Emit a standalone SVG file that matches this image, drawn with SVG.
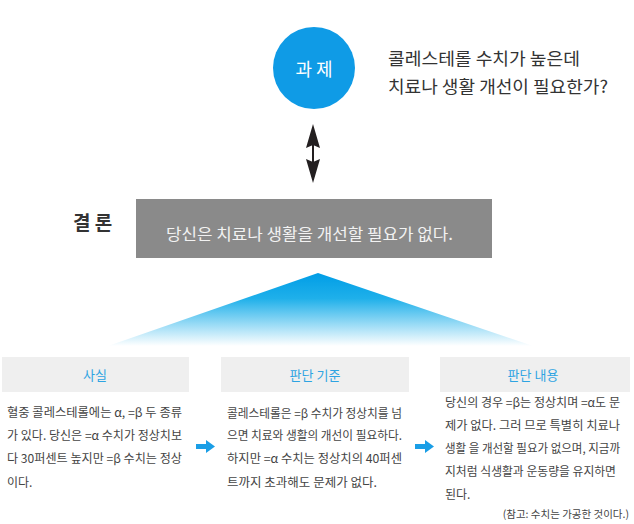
<svg xmlns="http://www.w3.org/2000/svg" width="634" height="524" viewBox="0 0 634 524">
<defs>
<linearGradient id="tri" x1="0" y1="0" x2="0" y2="1">
<stop offset="0" stop-color="#009de6"/>
<stop offset="0.35" stop-color="#1fb0ea"/>
<stop offset="1" stop-color="#ffffff"/>
</linearGradient>
</defs>
<style>
text{font-family:"Noto Sans CJK KR","Noto Sans",sans-serif}
.q{font-size:17.5px;fill:#333}
.body{font-size:12px;fill:#444}
.hdr{fill:#efefef}
.ht{font-size:13px;fill:#2ea4e2;text-anchor:middle}
.barrow{fill:#1a9ee6}
.g{font-style:italic}
</style>
<rect width="634" height="524" fill="#ffffff"/>

<g id="task">
<circle cx="314" cy="68" r="41" fill="#0f9be6"/>
<text x="314" y="76" font-size="18" fill="#ffffff" text-anchor="middle">과 제</text>
</g>

<g id="question">
<text class="q" x="388" y="65" textLength="192" lengthAdjust="spacingAndGlyphs">콜레스테롤 수치가 높은데</text>
<text class="q" x="388" y="93" textLength="220" lengthAdjust="spacingAndGlyphs">치료나 생활 개선이 필요한가?</text>
</g>

<g id="connectors">
<path d="M313,130 L313,176" stroke="#231f20" stroke-width="2" fill="none"/>
<path d="M313,124 L320,148 L313,145 L306,148 Z" fill="#231f20"/>
<path d="M313,183 L320,159 L313,162 L306,159 Z" fill="#231f20"/>
<path d="M196,444 L206,444 L206,440 L215,446.5 L206,453 L206,449 L196,449 Z" class="barrow"/>
<path d="M415,444 L425,444 L425,440 L434,446.5 L425,453 L425,449 L415,449 Z" class="barrow"/>
</g>

<g id="conclusion-label">
<text x="73" y="230" font-size="19" font-weight="bold" fill="#333">결 론</text>
</g>

<g id="conclusion">
<rect x="136" y="199" width="356" height="59" fill="#8a8a8a"/>
<text x="166" y="240" font-size="16" fill="#f2f2f2" textLength="287" lengthAdjust="spacingAndGlyphs">당신은 치료나 생활을 개선할 필요가 없다.</text>
</g>

<g id="triangle">
<polygon points="318,273 108,346 533,346" fill="url(#tri)"/>
</g>

<g id="fact">
<rect class="hdr" x="2" y="357" width="187" height="35"/>
<text class="ht" x="95" y="380">사실</text>
<text class="body" x="7" y="417" textLength="175" lengthAdjust="spacingAndGlyphs">혈중 콜레스테롤에는 α, =β 두 종류</text>
<text class="body" x="7" y="440" textLength="175" lengthAdjust="spacingAndGlyphs">가 있다. 당신은 =α 수치가 정상치보</text>
<text class="body" x="7" y="463" textLength="175" lengthAdjust="spacingAndGlyphs">다 30퍼센트 높지만 =β 수치는 정상</text>
<text class="body" x="7" y="487">이다.</text>
</g>

<g id="criteria">
<rect class="hdr" x="221" y="357" width="188" height="35"/>
<text class="ht" x="315" y="380">판단 기준</text>
<text class="body" x="227" y="418" textLength="175" lengthAdjust="spacingAndGlyphs">콜레스테롤은 =β 수치가 정상치를 넘</text>
<text class="body" x="227" y="440" textLength="175" lengthAdjust="spacingAndGlyphs">으면 치료와 생활의 개선이 필요하다.</text>
<text class="body" x="227" y="463" textLength="175" lengthAdjust="spacingAndGlyphs">하지만 =α 수치는 정상치의 40퍼센</text>
<text class="body" x="227" y="487" textLength="150" lengthAdjust="spacingAndGlyphs">트까지 초과해도 문제가 없다.</text>
</g>

<g id="judgement">
<rect class="hdr" x="440" y="357" width="190" height="35"/>
<text class="ht" x="533" y="380">판단 내용</text>
<text class="body" x="445" y="407" textLength="175" lengthAdjust="spacingAndGlyphs">당신의 경우 =β는 정상치며 =α도 문</text>
<text class="body" x="445" y="430" textLength="175" lengthAdjust="spacingAndGlyphs">제가 없다. 그러 므로 특별히 치료나</text>
<text class="body" x="445" y="453" textLength="175" lengthAdjust="spacingAndGlyphs">생활 을 개선할 필요가 없으며, 지금까</text>
<text class="body" x="445" y="476" textLength="171" lengthAdjust="spacingAndGlyphs">지처럼 식생활과 운동량을 유지하면</text>
<text class="body" x="445" y="499">된다.</text>
<text x="629" y="518" font-size="10.5" fill="#444" text-anchor="end">(참고: 수치는 가공한 것이다.)</text>
</g>
</svg>
